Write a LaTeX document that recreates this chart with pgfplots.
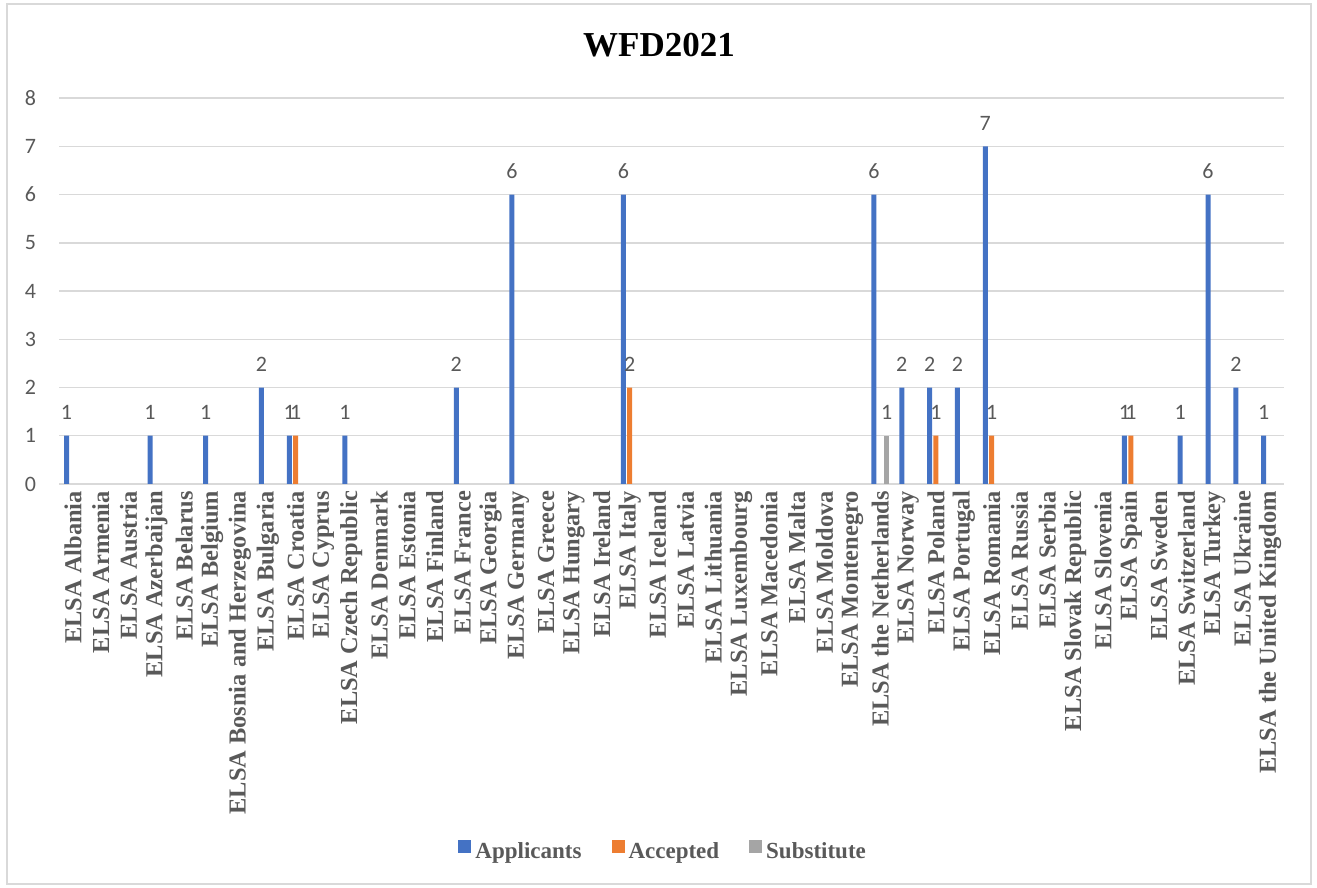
\documentclass[border=0pt]{standalone}
\usepackage{pgfplots}
\pgfplotsset{compat=1.18}
\usepackage{fontspec}
\setmainfont{Liberation Serif}
\newfontfamily\calibri{Carlito}
\definecolor{appl}{HTML}{4472C4}
\definecolor{acc}{HTML}{ED7D31}
\definecolor{subs}{HTML}{A5A5A5}
\definecolor{txt}{HTML}{595959}
\definecolor{grd}{HTML}{D9D9D9}

\begin{document}
\begin{tikzpicture}[x=1pt,y=1pt]
\path[use as bounding box] (0,0) rectangle (658.5,444);
\draw[grd, line width=0.75pt] (3.5,2) rectangle (655.5,442);
\node[font=\bfseries\fontsize{17.5}{19}\selectfont] at (329.5,421.5) {WFD2021};
\begin{axis}[
    at={(29.5pt,202pt)}, anchor=south west,
    scale only axis, width=612.5pt, height=193pt,
    ybar, bar width=2.5pt,
    xmin=-0.5, xmax=43.5, ymin=0, ymax=8,
    xtick={0,...,43},
    xticklabels={ELSA Albania, ELSA Armenia, ELSA Austria, ELSA Azerbaijan,
      ELSA Belarus, ELSA Belgium, ELSA Bosnia and Herzegovina, ELSA Bulgaria,
      ELSA Croatia, ELSA Cyprus, ELSA Czech Republic, ELSA Denmark,
      ELSA Estonia, ELSA Finland, ELSA France, ELSA Georgia, ELSA Germany,
      ELSA Greece, ELSA Hungary, ELSA Ireland, ELSA Italy, ELSA Iceland,
      ELSA Latvia, ELSA Lithuania, ELSA Luxembourg, ELSA Macedonia,
      ELSA Malta, ELSA Moldova, ELSA Montenegro, ELSA the Netherlands,
      ELSA Norway, ELSA Poland, ELSA Portugal, ELSA Romania, ELSA Russia,
      ELSA Serbia, ELSA Slovak Republic, ELSA Slovenia, ELSA Spain,
      ELSA Sweden, ELSA Switzerland, ELSA Turkey, ELSA Ukraine,
      ELSA the United Kingdom},
    xticklabel style={rotate=90, anchor=east, text=txt,
      font=\bfseries\fontsize{12.2}{14}\selectfont},
    ytick={0,...,8},
    yticklabel style={text=txt, font=\calibri\fontsize{11}{13}\selectfont, xshift=-8pt},
    /pgf/number format/assume math mode=true,
    major tick length=0pt,
    axis line style={draw=none},
    ymajorgrids, grid style={grd, line width=0.75pt},
    nodes near coords,
    every node near coord/.append style={text=txt,
      font=\calibri\fontsize{11}{13}\selectfont, yshift=4.5pt},
    legend columns=3,
    legend style={at={(0.494,-0.953)}, anchor=center, draw=none,
      text=txt, font=\bfseries\fontsize{11.5}{13}\selectfont,
      /tikz/every even column/.append style={column sep=13pt},
      inner sep=0pt},
    legend image code/.code={\fill[#1,draw=none] (0pt,-0.5pt) rectangle (6.5pt,6pt);},
  ]
  \addplot[fill=appl, draw=none, bar shift=-3.2pt] coordinates {
    (0,1) (3,1) (5,1) (7,2) (8,1) (10,1) (14,2) (16,6) (20,6) (29,6)
    (30,2) (31,2) (32,2) (33,7) (38,1) (40,1) (41,6) (42,2) (43,1)};
  \addlegendentry{Applicants}
  \addplot[fill=acc, draw=none, bar shift=0pt] coordinates {
    (8,1) (20,2) (31,1) (33,1) (38,1)};
  \addlegendentry{Accepted}
  \addplot[fill=subs, draw=none, bar shift=3.2pt] coordinates {
    (29,1)};
  \addlegendentry{Substitute}
\end{axis}
\end{tikzpicture}
\end{document}
